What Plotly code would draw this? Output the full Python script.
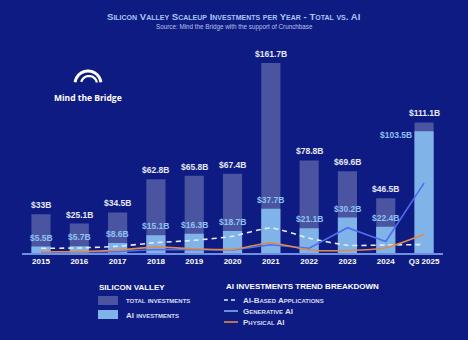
import numpy as np
import plotly.graph_objects as go

years = ["2015", "2016", "2017", "2018", "2019", "2020", "2021", "2022", "2023", "2024", "Q3 2025"]
total_inv = [33.0, 25.1, 34.5, 62.8, 65.8, 67.4, 161.7, 78.8, 69.6, 46.5, 111.1]
ai_inv = [5.5, 5.7, 8.6, 15.1, 16.3, 18.7, 37.7, 21.1, 30.2, 22.4, 103.5]
total_labels = ["$33B", "$25.1B", "$34.5B", "$62.8B", "$65.8B", "$67.4B", "$161.7B", "$78.8B", "$69.6B", "$46.5B", "$111.1B"]
ai_labels = ["$5.5B", "$5.7B", "$8.6B", "$15.1B", "$16.3B", "$18.7B", "$37.7B", "$21.1B", "$30.2B", "$22.4B", "$103.5B"]
ai_based_apps = [4.0, 4.3, 5.7, 8.8, 10.8, 14.2, 21.3, 12.6, 6.6, 6.8, 7.2]
generative_ai = [0.8, 0.9, 1.2, 3.0, 2.8, 2.6, 7.0, 4.0, 21.5, 9.8, 59.5]
physical_ai = [1.0, 1.2, 2.5, 5.0, 3.5, 3.1, 8.5, 2.6, 2.1, 4.5, 15.9]

W, H = 468, 340
BG = "#0E1B82"
TOTAL_C = "#4A54A0"
AI_C = "#80B4E8"
GEN_C = "#4D6EF0"
PHY_C = "#E08A4A"
FONT = "Liberation Sans, Arial, sans-serif"


def px(x):
    return x / W


def py(y):
    return 1 - y / H


fig = go.Figure()
fig.add_trace(go.Bar(x=years, y=total_inv, marker=dict(color=TOTAL_C, line_width=0), width=0.5,
                     name="Total investments", showlegend=False, hoverinfo="skip"))
fig.add_trace(go.Bar(x=years, y=ai_inv, marker=dict(color=AI_C, line_width=0), width=0.5,
                     name="AI investments", showlegend=False, hoverinfo="skip"))
fig.add_trace(go.Scatter(x=years, y=ai_based_apps, mode="lines", name="AI-Based Applications",
                         line=dict(color="#E8ECF8", width=1.6, dash="5px,4px", shape="spline", smoothing=0.6),
                         showlegend=False))
fig.add_trace(go.Scatter(x=years, y=generative_ai, mode="lines", name="Generative AI",
                         line=dict(color=GEN_C, width=1.6), showlegend=False))
fig.add_trace(go.Scatter(x=years, y=physical_ai, mode="lines", name="Physical AI",
                         line=dict(color=PHY_C, width=1.6, shape="spline", smoothing=0.7), showlegend=False))

annotations = []
for i, (v, t) in enumerate(zip(total_inv, total_labels)):
    annotations.append(dict(x=i, y=v, xref="x", yref="y", text=t, showarrow=False, yanchor="bottom",
                            yshift=2, font=dict(family=FONT, size=8.5, color="#E6E8F5", weight="bold")))
for i, (v, t) in enumerate(zip(ai_inv, ai_labels)):
    if i == len(years) - 1:
        annotations.append(dict(x=i, y=v, xref="x", yref="y", text=t, showarrow=False, xanchor="right",
                                yanchor="middle", xshift=-10, yshift=-4,
                                font=dict(family=FONT, size=8.5, color="#8EC3F5", weight="bold")))
    else:
        annotations.append(dict(x=i, y=v, xref="x", yref="y", text=t, showarrow=False, yanchor="bottom",
                                yshift=2, font=dict(family=FONT, size=8.5, color="#8EC3F5", weight="bold")))


def pa(x, y, text, font, xanchor="center"):
    return dict(x=px(x), y=py(y), xref="paper", yref="paper", text=text, showarrow=False,
                xanchor=xanchor, yanchor="middle", font=font)


# Title and subtitle
annotations.append(pa(234, 16, "Silicon Valley Scaleup Investments per Year - Total vs. AI",
                      dict(family=FONT, size=9.6, color="#A9C6F5", weight="bold", variant="small-caps")))
annotations.append(pa(234, 27, "Source: Mind the Bridge with the support of Crunchbase",
                      dict(family=FONT, size=6.3, color="#B8C4E8")))
# Logo text
annotations.append(pa(88, 97, "Mind the Bridge", dict(family="Open Sans, sans-serif", size=8.5, color="white", weight="bold")))

# Legend texts
leg_font_title = dict(family=FONT, size=8, color="white", weight="bold")
leg_font_item = dict(family=FONT, size=8, color="#D8DDF2", weight="bold", variant="small-caps")
annotations += [
    pa(97, 287, "SILICON VALLEY", leg_font_title, "left"),
    pa(124, 300, "total investments", leg_font_item, "left"),
    pa(124, 315, "AI investments", leg_font_item, "left"),
    pa(224, 286, "AI INVESTMENTS TREND BREAKDOWN", leg_font_title, "left"),
    pa(241, 300, "AI-Based Applications", leg_font_item, "left"),
    pa(241, 311, "Generative AI", leg_font_item, "left"),
    pa(241, 322, "Physical AI", leg_font_item, "left"),
]

shapes = [
    dict(type="rect", xref="paper", yref="paper", x0=px(98), x1=px(118), y0=py(305), y1=py(296), fillcolor=TOTAL_C, line_width=0),
    dict(type="rect", xref="paper", yref="paper", x0=px(98), x1=px(118), y0=py(319), y1=py(310), fillcolor=AI_C, line_width=0),
    dict(type="line", xref="paper", yref="paper", x0=px(224), x1=px(238), y0=py(300), y1=py(300), line=dict(color="#E8ECF8", width=1.6, dash="4px,3px")),
    dict(type="line", xref="paper", yref="paper", x0=px(224), x1=px(238), y0=py(311), y1=py(311), line=dict(color="#7FB2F0", width=1.6)),
    dict(type="line", xref="paper", yref="paper", x0=px(224), x1=px(238), y0=py(322), y1=py(322), line=dict(color=PHY_C, width=1.6)),
]


# Logo arcs
def arc_path(cx, cy, r, a0, a1, n=30):
    ang = np.radians(np.linspace(a0, a1, n))
    pts = [(px(cx + r * np.cos(a)), py(cy - r * np.sin(a))) for a in ang]
    return "M " + " L ".join(f"{x:.5f},{y:.5f}" for x, y in pts)


shapes.append(dict(type="path", xref="paper", yref="paper", path=arc_path(88, 84, 13, 172, 8), line=dict(color="white", width=3)))
shapes.append(dict(type="path", xref="paper", yref="paper", path=arc_path(89, 84, 8, 165, 10), line=dict(color="white", width=2.2)))

fig.update_layout(
    width=W, height=H, margin=dict(l=0, r=0, t=0, b=0),
    paper_bgcolor=BG, plot_bgcolor=BG, barmode="overlay",
    annotations=annotations, shapes=shapes, showlegend=False,
    xaxis=dict(domain=[px(21.85), px(443.2)], type="category", range=[-0.5, len(years) - 0.5],
               showgrid=False, zeroline=False,
               showline=True, linecolor="#6F8FE0", linewidth=1.5, ticks="",
               tickfont=dict(family=FONT, size=8, color="white", weight="bold")),
    yaxis=dict(domain=[py(253), py(45)], range=[0, 177], visible=False, showgrid=False, zeroline=False),
)

fig.write_html("out.html")
